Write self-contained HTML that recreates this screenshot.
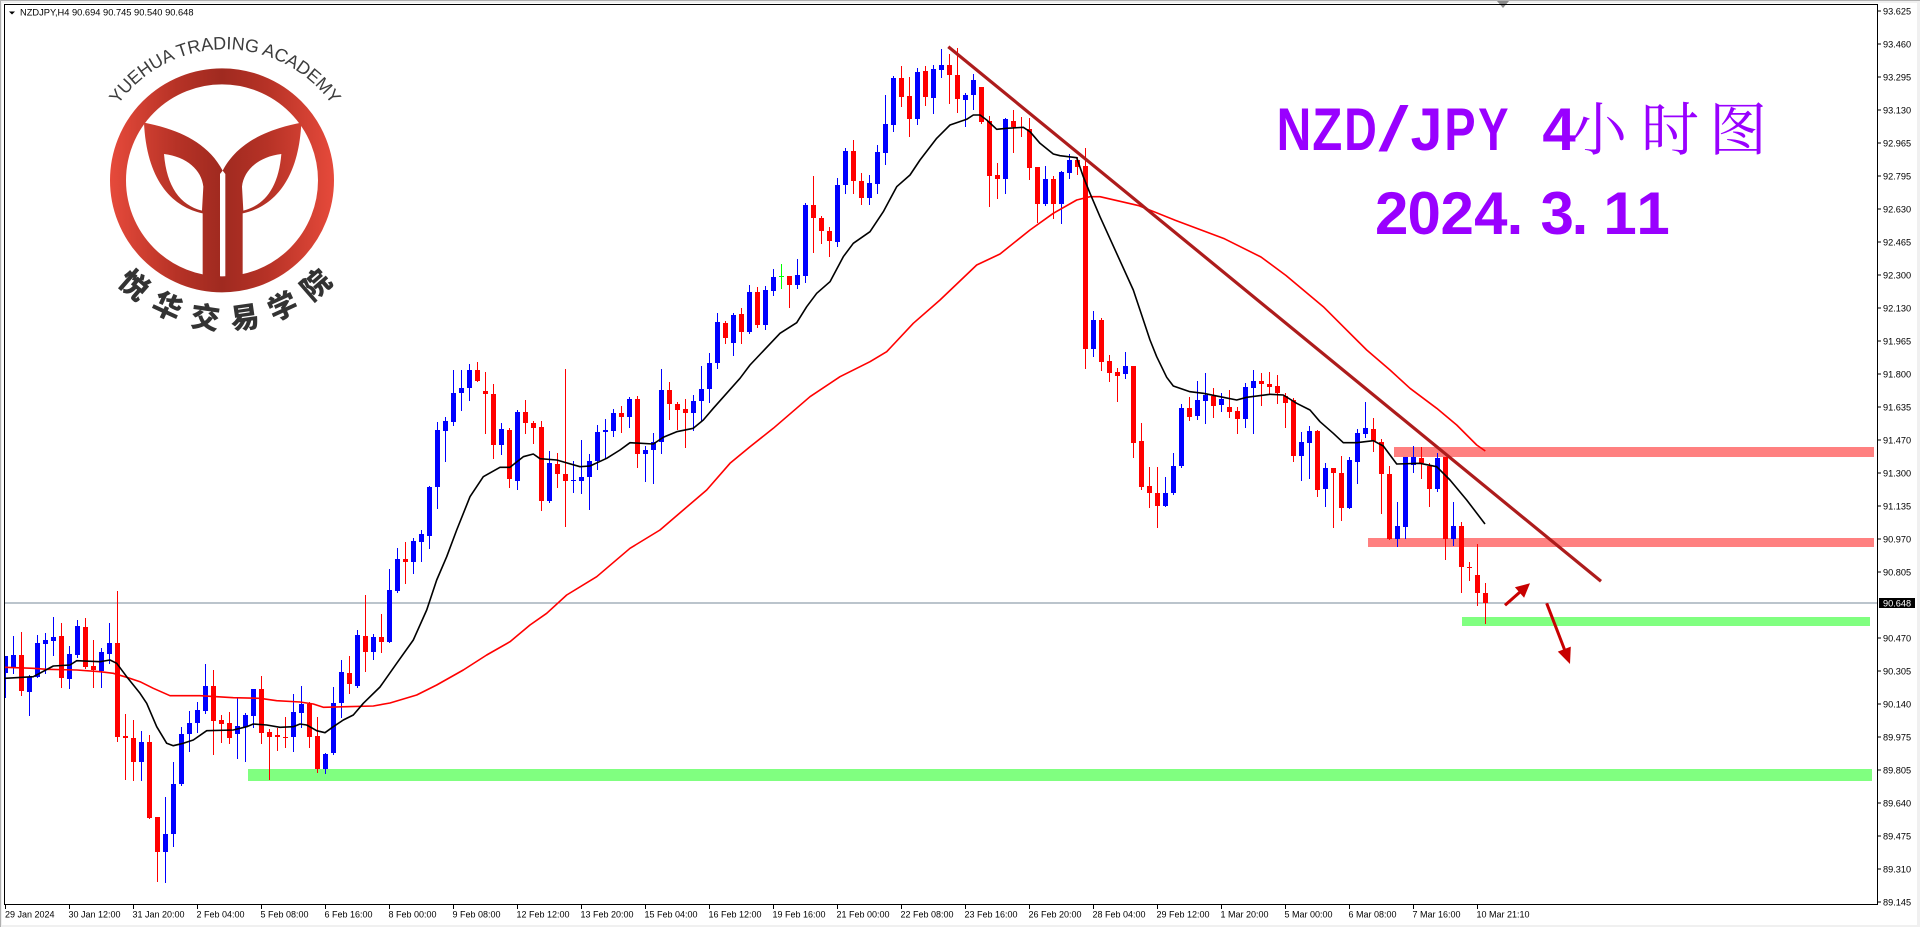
<!DOCTYPE html>
<html><head><meta charset="utf-8">
<style>
html,body{margin:0;padding:0;background:#f0f0f0;width:1920px;height:927px;overflow:hidden}
svg{display:block}
</style></head><body>
<svg id="s" width="1920" height="927" viewBox="0 0 1920 927" xmlns="http://www.w3.org/2000/svg" font-family="'Liberation Sans', Arial, sans-serif">
<defs>
<clipPath id="cp"><rect x="5" y="5" width="1872" height="899"/></clipPath>
<linearGradient id="lg" gradientUnits="userSpaceOnUse" x1="330" y1="0" x2="1002" y2="0">
<stop offset="0" stop-color="#e64a3b"/><stop offset="0.3" stop-color="#b63226"/><stop offset="0.5" stop-color="#a02a20"/><stop offset="0.7" stop-color="#b63226"/><stop offset="1" stop-color="#e64a3b"/>
</linearGradient>
<path id="arc" d="M118.1,104.6 A131,131 0 0 1 331.9,104.6" fill="none"/>
</defs>
<rect x="0" y="0" width="1920" height="927" fill="#f0f0f0"/>
<rect x="0" y="0" width="1920" height="1" fill="#b0b0b0"/>
<rect x="0" y="0" width="1" height="927" fill="#b0b0b0"/>
<rect x="2" y="3" width="1915" height="922" fill="#ffffff"/>
<polygon points="1497,1 1509,1 1503,8" fill="#8a8a8a"/>

<g clip-path="url(#cp)">
<!-- zones -->
<rect x="1394" y="447" width="480" height="10" fill="#ff8080"/>
<rect x="1368" y="538" width="506" height="9" fill="#ff8080"/>
<rect x="1462" y="617" width="408" height="9" fill="#80ff80"/>
<rect x="248" y="769" width="1624" height="12" fill="#80ff80"/>
<!-- price line -->
<rect x="5" y="602.5" width="1872" height="1" fill="#778899"/>
<g id="cd"></g>
<!-- MAs -->
<polyline fill="none" stroke="#ff0000" stroke-width="1.6" stroke-linejoin="round" points="5,667.3 33.3,668.3 46.7,669.3 76.7,670 100,671.7 113.3,673.3 126.7,677.3 140,681.7 153.3,688.3 170,695.7 200,695.7 233.3,697.7 260,698.3 276.7,700.7 300,702 313.3,704 323.3,707.3 346.7,706.7 373.3,706 390,703 416.7,695 436.7,685 463.3,670 486.7,655 510,641.7 530,625 546.7,613.3 566.7,595 596.7,576.7 630,548.3 660,530 683.3,510 706.7,490 730,463.3 750,446.7 773.3,428.3 810,396.7 840,376.7 870,361.7 886.7,351.7 913.3,323.3 940,300 976.7,265 1000,254 1030,230 1053.3,213.3 1076.7,200 1090,196.7 1100,196.7 1139,205.7 1175.5,220.4 1224.5,238.8 1261,257 1286,275.5 1303.3,290 1323.3,306.7 1343.3,326.7 1366.7,350 1390,370 1410,388.3 1436.7,408.3 1456.7,425 1476.7,445 1485.3,451"/>
<polyline fill="none" stroke="#000000" stroke-width="1.6" stroke-linejoin="round" points="5,678.3 33.3,676.7 53.3,666 70,665 76.7,660.7 100,661.7 110,660 116.7,663.3 126.7,676.7 140,693.3 146.7,703.3 156.7,726.7 166.7,743.3 173.3,745.7 183.3,743.3 193.3,740 206.7,730.7 233.3,730 246.7,726.7 253.3,724 266.7,725 280,727.3 293.3,726.7 300,724 306.7,725 316.7,730.7 325,732.7 333.3,726.7 343.3,720 353.3,715 363.3,703.3 380,687 396.7,663.3 413.3,640 426.7,610 436.7,580 446.7,556.7 456.7,530 470,496.7 483.3,476.7 500,467.3 510,467.3 523.3,456.7 533.3,454 540,458.7 556.7,460 580,466.7 590,466 606.7,458.3 620,450 630,442.7 653.3,444 663.3,437.3 676.7,431.7 693.3,428.3 703.3,420 713.3,408.3 740,378.3 750,365 780,333.3 796.7,322.7 806.7,306.7 816.7,293.3 830,281.7 843.3,256.7 853.3,243.3 870,231.7 883.3,211.7 896.7,186.7 910,175 920,160 936.7,138.3 950,125 966.7,119.3 973.3,115 980,115 986.7,120 996.7,129.3 1006.7,128.3 1023.3,127.3 1030,131.7 1040,143.3 1053.3,154 1060,155.7 1076.7,157.7 1083.3,176.7 1090,193.3 1100,216.7 1133.3,290 1140,310 1150,340 1156.7,356.7 1166.7,377.3 1173.3,386 1190,391.7 1203.3,393.3 1223.3,397.3 1236.7,400 1246.7,397.3 1270,394.3 1283.3,395 1296.7,403.3 1310,410 1320,421.7 1333.3,433.3 1343.3,442.7 1356.7,442.7 1373.3,440.7 1383.3,446 1396.7,464 1420,463.3 1436.7,466.7 1450,480 1466.7,500 1485,524"/>
<!-- trendline -->
<line x1="948.3" y1="46.7" x2="1601" y2="581.3" stroke="#ad1c1c" stroke-width="3.2"/>
<!-- arrows -->
<line x1="1505" y1="605.3" x2="1520" y2="592" stroke="#c80000" stroke-width="3"/>
<polygon points="1530,583.3 1524.1,597.8 1514.9,587.3" fill="#c80000"/>
<line x1="1546.7" y1="603.3" x2="1564.5" y2="649.5" stroke="#c80000" stroke-width="3"/>
<polygon points="1570,664 1570.8,646.6 1557.8,651.6" fill="#c80000"/>
</g>

<!-- logo -->
<g transform="scale(0.333333)">
<circle cx="666" cy="541" r="312" fill="none" stroke="url(#lg)" stroke-width="48"/>
<path fill="url(#lg)" fill-rule="evenodd" d="M432,368 C520,385 620,420 668,512 L660,522 L660,835 Q660,852 645,852 L623,852 Q608,852 608,835 L608,640 C520,622 440,545 432,368 Z M492,462 C560,470 605,510 610,560 L606,632 C540,615 500,560 492,462 Z"/>
<path fill="url(#lg)" fill-rule="evenodd" d="M904,368 C816,385 716,420 668,512 L676,522 L676,835 Q676,852 691,852 L713,852 Q728,852 728,835 L728,640 C816,622 896,545 904,368 Z M844,462 C776,470 731,510 726,560 L730,632 C796,615 836,560 844,462 Z"/>
</g>
<text font-size="18" fill="#3c3c3c"><textPath href="#arc" textLength="250" lengthAdjust="spacing">YUEHUA TRADING ACADEMY</textPath></text>
<g font-family="'Liberation Sans','Noto Sans CJK SC',sans-serif" font-size="29" font-weight="900" fill="#333333" text-anchor="middle" dominant-baseline="central">
<text transform="translate(133.2,286) rotate(41)">悦</text>
<text transform="translate(166.7,307.6) rotate(24.6)">华</text>
<text transform="translate(205,318.9) rotate(8.2)">交</text>
<text transform="translate(245,318.9) rotate(-8.2)">易</text>
<text transform="translate(283.3,307.6) rotate(-24.6)">学</text>
<text transform="translate(316.8,286) rotate(-41)">院</text>
</g>

<!-- title -->
<g fill="#9900ff" font-weight="bold" font-size="60" text-anchor="middle">
<text transform="translate(1294,150) scale(0.8,1)">N</text>
<text transform="translate(1327.3,150) scale(0.82,1)">Z</text>
<text transform="translate(1360.5,150) scale(0.75,1)">D</text>
<text transform="translate(1393.5,151) scale(1.8,1.05)" font-weight="normal">/</text>
<text transform="translate(1426.5,150) scale(0.95,1)">J</text>
<text transform="translate(1460,150) scale(0.78,1)">P</text>
<text transform="translate(1493.3,150) scale(0.76,1)">Y</text>
<text transform="translate(1559,150)">4</text>
</g>
<g fill="#9900ff" font-family="'Liberation Serif','Noto Serif CJK SC',serif" font-size="58" text-anchor="middle">
<text x="1598" y="150">小</text>
<text x="1670" y="150">时</text>
<text x="1738" y="150">图</text>
</g>
<g fill="#9900ff" font-weight="bold" font-size="60" text-anchor="middle">
<text x="1391.7" y="234">2</text>
<text x="1424.2" y="234">0</text>
<text x="1457.2" y="234">2</text>
<text x="1490.8" y="234">4</text>
<text x="1515" y="234">.</text>
<text x="1557.2" y="234">3</text>
<text x="1580" y="234">.</text>
<text x="1620" y="234">1</text>
<text x="1653" y="234">1</text>
</g>

<!-- header -->
<polygon points="9,11.5 15,11.5 12,14.5" fill="#000"/>
<text x="20" y="15.7" font-size="9.3" fill="#000">NZDJPY,H4  90.694 90.745 90.540 90.648</text>

<!-- frame -->
<rect x="4.5" y="4.5" width="1873" height="900" fill="none" stroke="#000" stroke-width="1"/>

<!-- price axis -->
<g fill="#000" font-size="9.2">
<rect x="1878" y="10.5" width="3" height="1"/><text x="1883" y="14.5">93.625</text>
<rect x="1878" y="43.5" width="3" height="1"/><text x="1883" y="47.5">93.460</text>
<rect x="1878" y="76.5" width="3" height="1"/><text x="1883" y="80.5">93.295</text>
<rect x="1878" y="109.5" width="3" height="1"/><text x="1883" y="113.5">93.130</text>
<rect x="1878" y="142.5" width="3" height="1"/><text x="1883" y="146.5">92.965</text>
<rect x="1878" y="175.5" width="3" height="1"/><text x="1883" y="179.5">92.795</text>
<rect x="1878" y="208.5" width="3" height="1"/><text x="1883" y="212.5">92.630</text>
<rect x="1878" y="241.5" width="3" height="1"/><text x="1883" y="245.5">92.465</text>
<rect x="1878" y="274.5" width="3" height="1"/><text x="1883" y="278.5">92.300</text>
<rect x="1878" y="307.5" width="3" height="1"/><text x="1883" y="311.5">92.130</text>
<rect x="1878" y="340.5" width="3" height="1"/><text x="1883" y="344.5">91.965</text>
<rect x="1878" y="373.5" width="3" height="1"/><text x="1883" y="377.5">91.800</text>
<rect x="1878" y="406.5" width="3" height="1"/><text x="1883" y="410.5">91.635</text>
<rect x="1878" y="439.5" width="3" height="1"/><text x="1883" y="443.5">91.470</text>
<rect x="1878" y="472.5" width="3" height="1"/><text x="1883" y="476.5">91.300</text>
<rect x="1878" y="505.5" width="3" height="1"/><text x="1883" y="509.5">91.135</text>
<rect x="1878" y="538.5" width="3" height="1"/><text x="1883" y="542.5">90.970</text>
<rect x="1878" y="571.5" width="3" height="1"/><text x="1883" y="575.5">90.805</text>
<rect x="1878" y="637.5" width="3" height="1"/><text x="1883" y="641.5">90.470</text>
<rect x="1878" y="670.5" width="3" height="1"/><text x="1883" y="674.5">90.305</text>
<rect x="1878" y="703.5" width="3" height="1"/><text x="1883" y="707.5">90.140</text>
<rect x="1878" y="736.5" width="3" height="1"/><text x="1883" y="740.5">89.975</text>
<rect x="1878" y="769.5" width="3" height="1"/><text x="1883" y="773.5">89.805</text>
<rect x="1878" y="802.5" width="3" height="1"/><text x="1883" y="806.5">89.640</text>
<rect x="1878" y="835.5" width="3" height="1"/><text x="1883" y="839.5">89.475</text>
<rect x="1878" y="868.5" width="3" height="1"/><text x="1883" y="872.5">89.310</text>
<rect x="1878" y="901.5" width="3" height="1"/><text x="1883" y="905.5">89.145</text>
</g>
<rect x="1879" y="598" width="36" height="10" fill="#000"/>
<text x="1883" y="606.6" font-size="9.2" fill="#fff">90.648</text>

<!-- time axis -->
<g fill="#000" font-size="9">
<rect x="5" y="905" width="1" height="4"/><text x="5" y="917.5">29 Jan 2024</text>
<rect x="69" y="905" width="1" height="4"/><text x="68.5" y="917.5">30 Jan 12:00</text>
<rect x="133" y="905" width="1" height="4"/><text x="132.5" y="917.5">31 Jan 20:00</text>
<rect x="197" y="905" width="1" height="4"/><text x="196.5" y="917.5">2 Feb 04:00</text>
<rect x="261" y="905" width="1" height="4"/><text x="260.5" y="917.5">5 Feb 08:00</text>
<rect x="325" y="905" width="1" height="4"/><text x="324.5" y="917.5">6 Feb 16:00</text>
<rect x="389" y="905" width="1" height="4"/><text x="388.5" y="917.5">8 Feb 00:00</text>
<rect x="453" y="905" width="1" height="4"/><text x="452.5" y="917.5">9 Feb 08:00</text>
<rect x="517" y="905" width="1" height="4"/><text x="516.5" y="917.5">12 Feb 12:00</text>
<rect x="581" y="905" width="1" height="4"/><text x="580.5" y="917.5">13 Feb 20:00</text>
<rect x="645" y="905" width="1" height="4"/><text x="644.5" y="917.5">15 Feb 04:00</text>
<rect x="709" y="905" width="1" height="4"/><text x="708.5" y="917.5">16 Feb 12:00</text>
<rect x="773" y="905" width="1" height="4"/><text x="772.5" y="917.5">19 Feb 16:00</text>
<rect x="837" y="905" width="1" height="4"/><text x="836.5" y="917.5">21 Feb 00:00</text>
<rect x="901" y="905" width="1" height="4"/><text x="900.5" y="917.5">22 Feb 08:00</text>
<rect x="965" y="905" width="1" height="4"/><text x="964.5" y="917.5">23 Feb 16:00</text>
<rect x="1029" y="905" width="1" height="4"/><text x="1028.5" y="917.5">26 Feb 20:00</text>
<rect x="1093" y="905" width="1" height="4"/><text x="1092.5" y="917.5">28 Feb 04:00</text>
<rect x="1157" y="905" width="1" height="4"/><text x="1156.5" y="917.5">29 Feb 12:00</text>
<rect x="1221" y="905" width="1" height="4"/><text x="1220.5" y="917.5">1 Mar 20:00</text>
<rect x="1285" y="905" width="1" height="4"/><text x="1284.5" y="917.5">5 Mar 00:00</text>
<rect x="1349" y="905" width="1" height="4"/><text x="1348.5" y="917.5">6 Mar 08:00</text>
<rect x="1413" y="905" width="1" height="4"/><text x="1412.5" y="917.5">7 Mar 16:00</text>
<rect x="1477" y="905" width="1" height="4"/><text x="1476.5" y="917.5">10 Mar 21:10</text>
</g>
</svg>
<script>
(function(){
var A="b228,352,228,278 b168,280,225,265 r155,345,225,332 b285,405,290,335 b165,290,188,290 b158,280,180,192 b110,225,170,183 r128,320,168,293 b198,323,222,297 b120,230,138,225 r115,265,140,260 r180,320,258,270 b205,320,215,272 b130,250,188,222 r33,482,188,470 r402,597,467,473 r420,600,473,545 b453,600,486,545 r465,715,486,713 r710,902,711,815 b650,905,762,815 b545,797,612,762 b440,615,462,612 b392,512,430,462 b365,455,390,428 b252,400,318,392 r270,522,318,422 r405,485,420,432 r396,488,430,473 b355,535,438,463 b398,542,405,440 b326,440,327,407 r288,488,327,458 r448,597,456,470 r445,510,465,472 r410,500,470,472 b342,512,396,470 b318,440,372,398 r365,502,372,470 r410,575,468,567 b518,580,522,567 b322,522,370,520 b240,410,276,368 r228,340,280,313 b150,320,165,318 r45,272,168,217 b162,237,170,217";
var B="r792,905,860,876 b657,877,720,876 b595,725,628,722 r577,700,628,636 b565,668,573,635 b540,632,552,575 b408,593,410,557 b215,473,240,410 b200,332,213,242 b60,225,128,215 b60,180,114,130 b42,150,60,113 r36,92,60,92 r65,248,123,131 r102,323,132,284 b220,312,237,284 r235,412,240,388 b180,416,186,392 r150,250,186,220 r212,278,220,233 r212,480,232,452 b302,457,340,452 r310,412,342,373 r58,527,372,392 b333,425,390,392 b270,428,381,392 b312,476,333,380 b225,356,245,333 b207,325,240,245 b178,258,188,242 r168,245,188,200 b140,230,147,200 r138,352,147,313 b288,392,300,313 b248,400,277,300 b57,310,120,277 r96,206,120,163 r155,238,162,180 r147,290,177,188 b135,240,152,188 b47,210,117,153 b10,155,38,118";
var C="b850,1015,876,998 r872,940,880,925 b850,975,856,938 r835,938,853,905 b765,908,786,905 r772,890,786,886 b768,898,780,886 b718,795,740,782 g702,775,739,741 r738,832,739,765 b688,775,736,765 b520,755,525,738 r438,665,525,565 r558,638,565,602 r590,678,602,632 b445,648,465,635 b355,488,363,465 r330,488,362,452 r428,523,452,505 b435,523,460,503 b345,488,366,462 b195,402,282,368 b138,302,145,285 r108,228,145,200 r142,318,198,268 b115,283,125,268 r108,225,124,200 b105,248,118,203 b58,140,104,119 r72,218,104,134 r55,245,135,206 b188,288,195,210 b133,236,150,196 r170,278,172,275 r258,528,272,437 r398,505,435,447 b265,490,268,446 r240,365,272,290 r262,318,290,294 r265,447,297,413 r410,575,410,523 b408,525,447,523 r438,565,447,522 b422,578,425,522 b372,445,390,428 r380,432,390,410 r355,1015,408,957 b843,978,870,957";
var D="r85,240,90,215 r195,272,213,248 r235,332,246,257 b185,265,228,253 r228,502,228,458 r400,597,453,590 r530,650,588,610 r530,710,608,647 b562,647,608,647 b490,612,528,610 b342,530,353,527 r322,390,353,380 b272,388,330,378 b250,398,315,332 r295,380,318,347 b310,362,326,345 r300,382,350,365 r350,430,363,386 b278,410,292,386 b240,428,272,293 r250,345,272,283 r246,310,283,290 r256,338,288,310 r310,410,318,338 r325,512,330,497 b425,570,455,497 b408,563,422,458 r420,617,423,600 b520,647,535,597 r535,710,535,550 r498,690,548,653 b500,655,510,653 b418,580,430,515 b336,442,413,432 r385,482,417,452 r448,670,456,553 r528,748,552,748 b636,768,708,748 b500,745,500,710 b468,545,500,525 r470,565,505,520 r520,648,528,598 b488,602,505,598 r500,808,500,748 b636,765,708,748 r695,905,708,832 r815,870,830,835 r762,945,855,908 r880,1000,910,938";
var G=[[A,580,0],[B,350,47],[C,30,89],[D,290,137]];
var ns="http://www.w3.org/2000/svg";
var g=document.getElementById("cd");
var col={b:"#0000ff",r:"#ff0000",g:"#00ff00"};
function R(x,y,w,h,f){var e=document.createElementNS(ns,"rect");e.setAttribute("x",x);e.setAttribute("y",y);e.setAttribute("width",w);e.setAttribute("height",h);e.setAttribute("fill",f);g.appendChild(e);}
G.forEach(function(grp){
  var s=grp[0],off=grp[1],st=grp[2];
  s.trim().split(/\s+/).forEach(function(t,k){
    var c=col[t.charAt(0)];
    var v=t.slice(1).split(",").map(Number).map(function(z){return Math.round(off+z/3);});
    var i=st+k, x=5+8*i;
    R(x,v[0],1,Math.max(1,v[1]-v[0]+1),c);
    R(x-2,v[2],5,Math.max(1,v[3]-v[2]),c);
  });
});
})();
</script>
</body></html>
